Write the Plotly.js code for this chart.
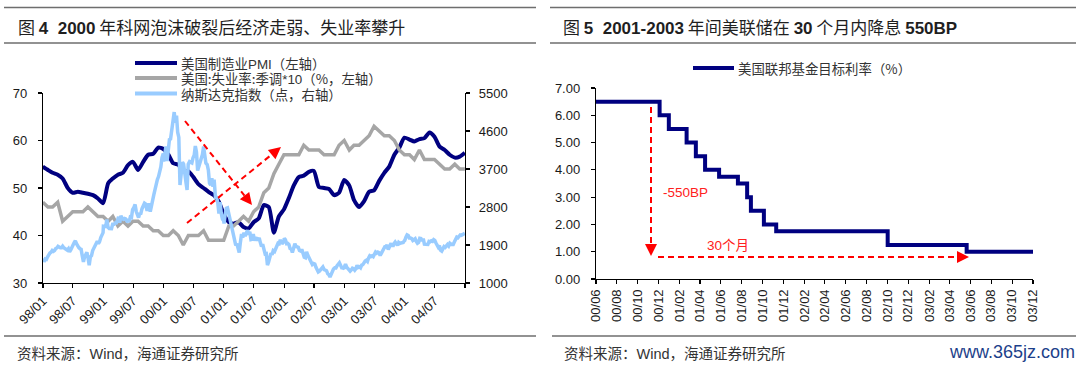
<!DOCTYPE html>
<html><head><meta charset="utf-8">
<script src="https://cdn.plot.ly/plotly-3.0.1.min.js"></script>
<style>html,body{margin:0;padding:0;background:#fff}#chart{width:1080px;height:368px}</style>
</head><body><div id="chart"></div>
<script>
// ================= DATA =================
// Left chart: monthly series, month-end values from 1997-12 to 2004-12
const pmiValues = [
  54.5,
  53.8,53.2,52.8,52.0,50.0,49.0,49.2,49.0,48.8,48.5,47.8,46.8,
  51.0,52.0,52.8,53.2,54.8,55.5,53.8,55.5,57.0,57.2,58.5,58.2,
  57.0,55.2,54.9,53.4,53.5,52.3,50.8,50.0,49.2,48.5,47.2,44.5,
  42.8,42.5,42.8,41.8,41.5,42.8,43.6,46.4,46.0,40.6,44.0,45.5,
  48.0,50.5,52.3,52.6,53.4,53.6,50.2,50.0,49.8,48.5,49.0,51.7,
  50.5,47.5,46.0,47.2,49.2,49.5,51.5,53.2,54.5,57.0,58.5,60.6,
  60.2,59.8,60.3,60.5,61.7,60.8,58.7,58.0,57.0,56.4,56.6,57.4
];
// US unemployment rate, seasonally adjusted (%), plotted *10
const unempRate = [
  4.7,
  4.6,4.6,4.7,4.3,4.4,4.5,4.5,4.5,4.6,4.5,4.4,4.4,
  4.3,4.4,4.2,4.3,4.2,4.3,4.3,4.2,4.2,4.1,4.1,4.0,
  4.0,4.1,4.0,3.8,4.0,4.0,4.0,4.1,3.9,3.9,3.9,3.9,
  4.2,4.2,4.3,4.4,4.3,4.5,4.6,4.9,5.0,5.3,5.5,5.7,
  5.7,5.7,5.7,5.9,5.8,5.8,5.8,5.7,5.7,5.7,5.9,6.0,
  5.8,5.9,5.9,6.0,6.1,6.3,6.2,6.1,6.1,6.0,5.8,5.7,
  5.7,5.6,5.8,5.6,5.6,5.6,5.5,5.4,5.4,5.5,5.4,5.4
];
// NASDAQ composite, weekly closes (points), by year
const nasdaq1998 = [1581,1503,1570,1560,1619,1677,1710,1728,1771,1750,1770,1816,1830,1868,1838,1835,1835,1873,1835,1820,1795,1779,1812,1738,1781,1868,1900,1956,2000,1930,1873,1839,1810,1800,1639,1499,1620,1690,1726,1590,1419,1620,1650,1770,1830,1847,1910,1990,1937,1980,2075,2150,2193];
const nasdaq1999 = [2344,2348,2338,2505,2320,2290,2284,2288,2390,2390,2420,2420,2480,2570,2430,2590,2540,2510,2530,2520,2470,2480,2450,2560,2550,2740,2790,2860,2690,2640,2550,2640,2650,2760,2840,2890,2870,2740,2740,2890,2690,2850,2970,3100,3220,3370,3450,3520,3620,3750,3970,4069];
const nasdaq2000 = [3880,4064,4235,3887,4244,4395,4411,4590,4914,5048,4798,4963,4573,4446,3321,3643,3860,3816,3529,3390,3205,3813,3874,3860,3845,3966,4023,4246,4095,3663,3787,3849,3930,4042,4234,3913,3835,3803,3673,3361,3316,3483,3278,3451,3028,3027,2904,2645,2917,2654,2517,2471];
const nasdaq2001 = [2407,2626,2770,2781,2660,2470,2425,2262,2117,2052,1890,1928,1840,1720,1961,2163,2075,2192,2108,2199,2250,2149,2215,2029,2035,2161,2004,2084,2029,2030,2066,1956,1867,1917,1805,1688,1695,1423,1499,1605,1703,1671,1768,1745,1828,1899,1941,1930,2022,1953,1945,1987];
const nasdaq2002 = [2059,2022,1930,1937,1911,1818,1805,1724,1802,1929,1868,1851,1845,1770,1756,1796,1663,1613,1600,1741,1661,1615,1535,1504,1440,1463,1448,1373,1319,1262,1280,1306,1361,1380,1315,1295,1291,1221,1199,1139,1210,1287,1331,1360,1359,1411,1468,1479,1422,1362,1363,1335];
const nasdaq2003 = [1387,1448,1376,1342,1321,1282,1310,1349,1337,1305,1340,1421,1370,1383,1358,1425,1435,1502,1520,1538,1510,1596,1646,1627,1644,1625,1663,1733,1708,1730,1715,1653,1702,1765,1810,1858,1855,1905,1792,1880,1915,1912,1865,1932,1970,1930,1893,1960,1937,1949,1951,1960,2003];
const nasdaq2004 = [2006,2086,2140,2124,2066,2064,2053,2007,2029,2047,1984,1940,1960,2057,2052,1995,2050,1920,1917,1904,1912,1987,1978,1999,1987,2025,2006,1946,1883,1849,1887,1777,1757,1838,1862,1844,1894,1911,1879,1942,1919,1911,1915,1975,2038,2085,2070,2101,2138,2129,2150,2160,2175];
const nasdaqByYear = {1998:nasdaq1998,1999:nasdaq1999,2000:nasdaq2000,2001:nasdaq2001,2002:nasdaq2002,2003:nasdaq2003,2004:nasdaq2004};

const leftTickLabels = ['98/01','98/07','99/01','99/07','00/01','00/07','01/01','01/07','02/01','02/07','03/01','03/07','04/01','04/07'];

// Right chart: Fed funds target rate (%), step changes
const fedDates = ['2000-06-01','2000-12-04','2000-12-31','2001-02-21','2001-03-20','2001-04-16','2001-05-27','2001-07-21','2001-08-17','2001-08-28','2001-10-05','2001-11-10','2002-10-02','2003-05-21','2003-12-01'];
const fedRates = [6.5,6.0,5.5,5.0,4.5,4.0,3.75,3.5,3.0,2.5,2.0,1.75,1.25,1.0,1.0];
const rightTickLabels = ['00/06','00/08','00/10','00/12','01/02','01/04','01/06','01/08','01/10','01/12','02/02','02/04','02/06','02/08','02/10','02/12','03/02','03/04','03/06','03/08','03/10','03/12'];

// ================= BUILD =================
const iso = d => d.toISOString().slice(0,10);
const monthEnd = [];
for (let i = 0; i < pmiValues.length; i++) monthEnd.push(iso(new Date(Date.UTC(1998, i, 0))));
const unempX10 = unempRate.map(v => Math.round(v*100)/10);

const ndX = [], ndY = [];
Object.keys(nasdaqByYear).forEach(y => {
  const arr = nasdaqByYear[y];
  const t0 = Date.UTC(+y,0,2), t1 = Date.UTC(+y,11,31);
  arr.forEach((v,i) => { ndX.push(iso(new Date(t0 + (t1-t0)*i/(arr.length-1)))); ndY.push(v); });
});

const ltv = leftTickLabels.map(s => { const yy = +s.slice(0,2); const y = yy > 50 ? 1900+yy : 2000+yy; return y + '-' + s.slice(3) + '-01'; });
ltv.push('2005-01-01');
const ltt = leftTickLabels.concat(['']);
const rtv = rightTickLabels.map(s => (2000 + +s.slice(0,2)) + '-' + s.slice(3) + '-01');

const W = 1080, H = 368;
const px = x => x / W, py = y => 1 - y / H;
const latin = '"Liberation Sans", Arial, sans-serif';
const cjk = '"Noto Sans CJK SC", "Noto Sans CJK JP", sans-serif';
const L = s => '<span style="font-family:Liberation Sans, Arial, sans-serif">' + s + '</span>';
const tickFont = {family: latin, size: 13, color: '#1a1a1a'};
const axBase = {showline:true, linecolor:'#000', linewidth:1.2, ticks:'outside', ticklen:4, tickwidth:1.2, tickcolor:'#000', showgrid:false, zeroline:false, tickfont:tickFont, fixedrange:true};

const names = ['美国制造业' + L('PMI') + '（左轴）', '美国:失业率:季调' + L('*10') + '（%，左轴）', '纳斯达克指数（点，右轴）', '美国联邦基金目标利率（%）'];
const traces = [
  {x: monthEnd, y: pmiValues, xaxis:'x', yaxis:'y', mode:'lines', name:names[0], line:{color:'#000080', width:4, shape:'spline', smoothing:0.6}},
  {x: monthEnd, y: unempX10, xaxis:'x', yaxis:'y', mode:'lines', name:names[1], line:{color:'#a6a6a6', width:3.5}},
  {x: ndX, y: ndY, xaxis:'x', yaxis:'y2', mode:'lines', name:names[2], line:{color:'#99ccff', width:3.5}},
  {x: fedDates, y: fedRates, xaxis:'x2', yaxis:'y3', mode:'lines', name:names[3], line:{color:'#000080', width:4, shape:'hv'}}
];

const shapes = [];
const annotations = [];
function hline(x0, x1, y, color, width) { shapes.push({type:'line', xref:'paper', yref:'paper', x0:px(x0), x1:px(x1), y0:py(y), y1:py(y), line:{color, width}}); }
function dashLine(x0, y0, x1, y1) { shapes.push({type:'line', xref:'paper', yref:'paper', x0:px(x0), y0:py(y0), x1:px(x1), y1:py(y1), line:{color:'#ff0000', width:2, dash:'6px,4px'}}); }
function head(fx, fy, tx, ty, len, hw) {
  const dx = tx - fx, dy = ty - fy, Ln = Math.hypot(dx, dy), ux = dx/Ln, uy = dy/Ln;
  const bx = tx - ux*len, by = ty - uy*len;
  const p1 = [bx - uy*hw, by + ux*hw], p2 = [bx + uy*hw, by - ux*hw];
  shapes.push({type:'path', xref:'paper', yref:'paper', path:`M${px(tx)},${py(ty)} L${px(p1[0])},${py(p1[1])} L${px(p2[0])},${py(p2[1])} Z`, fillcolor:'#ff0000', line:{width:0}});
  return [bx, by];
}
function arrow(fx, fy, tx, ty, len, hw) { const b = head(fx, fy, tx, ty, len, hw); dashLine(fx, fy, b[0], b[1]); }
function text(x, y, t, opts) { annotations.push(Object.assign({xref:'paper', yref:'paper', x:px(x), y:py(y), text:t, showarrow:false, xanchor:'left', yanchor:'middle', borderpad:0, font:{family:cjk, size:13.4, color:'#333'}}, opts||{})); }

// Header / footer rules
hline(4, 536, 7.5, '#6e6e6e', 1.5); hline(4, 536, 43, '#6e6e6e', 1.5);
hline(550, 1076, 7.5, '#6e6e6e', 1.5); hline(550, 1076, 43, '#6e6e6e', 1.5);
hline(4, 536, 336, '#6e6e6e', 1.5); hline(552, 1076, 336, '#6e6e6e', 1.5);

// Titles
const titleFont = {family: cjk, size: 17, color: '#1f1f1f'};
const B = s => '<b>' + L(s) + '</b>';
text(17, 26.5, '图 ' + B('4&nbsp;&nbsp;2000') + ' 年科网泡沫破裂后经济走弱、失业率攀升', {font: titleFont});
text(562, 26.5, '图 ' + B('5&nbsp;&nbsp;2001-2003') + ' 年间美联储在 ' + B('30') + ' 个月内降息 ' + B('550BP'), {font: titleFont});

// Sources
const src = '资料来源：' + L('Wind') + '，海通证券研究所';
text(16, 352, src, {font:{family:cjk, size:14.5, color:'#333'}});
text(563, 352, src, {font:{family:cjk, size:14.5, color:'#333'}});
text(1076, 352, 'www.365jz.com', {xanchor:'right', font:{family:'"Liberation Sans Narrow", "Liberation Sans", sans-serif', size:18, color:'#1d3f8a'}});

// Manual legends
const legL = [[traces[0], 63], [traces[1], 78], [traces[2], 93.5]];
legL.forEach(([tr, y]) => { shapes.push({type:'line', xref:'paper', yref:'paper', x0:px(135), x1:px(177), y0:py(y), y1:py(y), line:{color:tr.line.color, width:4}}); text(180, y, tr.name); });
shapes.push({type:'line', xref:'paper', yref:'paper', x0:px(693), x1:px(734), y0:py(68), y1:py(68), line:{color:'#000080', width:4}});
text(737, 68, traces[3].name);

// Red dashed arrows, left chart
arrow(185, 121, 252, 205, 12, 6);
arrow(187, 223, 281, 147, 12, 6);
// Right chart
arrow(651, 107, 651, 256, 12, 6);
arrow(658, 257, 969, 257, 12, 6);
text(662, 192, '-550BP', {font:{family:latin, size:13.5, color:'#ff2020'}});
text(728, 244, L('30') + '个月', {xanchor:'center', font:{family:cjk, size:13.5, color:'#ff2020'}});

const layout = {
  width: W, height: H, margin:{l:0, r:0, t:0, b:0}, paper_bgcolor:'#fff', plot_bgcolor:'rgba(0,0,0,0)', showlegend:false, hovermode:false,
  xaxis: Object.assign({}, axBase, {domain:[px(43), px(465)], anchor:'y', type:'date', range:['1998-01-01','2005-01-01'], tickmode:'array', tickvals:ltv, ticktext:ltt, tickangle:-45}),
  yaxis: Object.assign({}, axBase, {domain:[py(283), py(93)], anchor:'x', range:[30,70], tick0:30, dtick:10, ticklabelstandoff:8}),
  yaxis2: Object.assign({}, axBase, {overlaying:'y', side:'right', anchor:'x', range:[1000,5500], tick0:1000, dtick:900, ticklabelstandoff:6}),
  xaxis2: Object.assign({}, axBase, {domain:[px(596), px(1033)], anchor:'y3', type:'date', range:['2000-06-01','2003-12-01'], tickmode:'array', tickvals:rtv, ticktext:rightTickLabels, tickangle:-90}),
  yaxis3: Object.assign({}, axBase, {domain:[py(279), py(88)], anchor:'x2', range:[0,7], tick0:0, dtick:1, tickformat:'.2f', ticklabelstandoff:8}),
  shapes, annotations
};
Plotly.newPlot('chart', traces, layout, {staticPlot:true, displayModeBar:false});
</script></body></html>
